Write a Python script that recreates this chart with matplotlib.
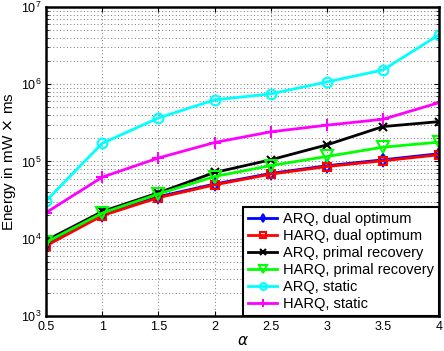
import numpy as np
import matplotlib
matplotlib.use("Agg")
import matplotlib.pyplot as plt
from matplotlib.ticker import LogLocator, NullFormatter

plt.rcParams['font.family'] = ['Liberation Sans', 'DejaVu Sans']

# data
alpha = [0.5, 1.0, 1.5, 2.0, 2.5, 3.0, 3.5, 4.0]
arq_dual = [8400, 20300, 35000, 51000, 70000, 88000, 105000, 126000]
harq_dual = [8100, 19900, 34000, 49800, 68500, 86000, 102000, 122000]
arq_primal = [9500, 22500, 39300, 72000, 105000, 164000, 283000, 328000]
harq_primal = [9000, 21500, 38000, 63800, 88500, 116000, 153000, 178000]
arq_static = [31000, 172000, 366000, 627000, 750000, 1070000, 1530000, 4380000]
harq_static = [21800, 62700, 111000, 176000, 242000, 295000, 352000, 578000]

labels = ['ARQ, dual optimum', 'HARQ, dual optimum', 'ARQ, primal recovery',
          'HARQ, primal recovery', 'ARQ, static', 'HARQ, static']
series = [arq_dual, harq_dual, arq_primal, harq_primal, arq_static, harq_static]
colors = ['#0000ff', '#ff0000', '#000000', '#00ff00', '#00ffff', '#ff00ff']
markers = ['d', 's', 'x', 'v', 'o', '+']
msizes = [6, 6, 6, 8, 7, 8]

fig = plt.figure(figsize=(4.44, 3.51), dpi=100)
ax = fig.add_axes([0.104, 0.100, 0.885, 0.880])

for y, lab, c, m, ms in zip(series, labels, colors, markers, msizes):
    ax.plot(alpha, y, color=c, marker=m, markersize=ms, linewidth=2,
            markerfacecolor='none', markeredgecolor=c, markeredgewidth=1.5,
            label=lab)

ax.set_yscale('log')
ax.set_xlim(0.5, 4)
ax.set_ylim(1e3, 1e7)
ax.set_xticks(alpha)
ax.set_xticklabels(['0.5', '1', '1.5', '2', '2.5', '3', '3.5', '4'])
ax.yaxis.set_major_locator(LogLocator(base=10, numticks=10))
ax.yaxis.set_minor_locator(LogLocator(base=10, subs=np.arange(2, 10), numticks=20))
ax.yaxis.set_minor_formatter(NullFormatter())

ax.grid(True, which='major', linestyle=(0, (1, 2.5)), color='#777777', linewidth=0.7)
ax.grid(True, which='minor', axis='y', linestyle=(0, (1, 2.5)), color='#777777', linewidth=0.7)
ax.tick_params(which='both', direction='in', top=True, right=True, labelsize=9)
for s in ax.spines.values():
    s.set_linewidth(1.8)

ax.set_xlabel(r'$\alpha$', fontsize=11, labelpad=1)
ax.set_ylabel(r'Energy in mW $\times$ ms', fontsize=11, labelpad=2)

leg = ax.legend(loc='lower right', fontsize=10.5, fancybox=False, framealpha=1,
                edgecolor='black', borderaxespad=0, handlelength=2.0,
                labelspacing=0.2, borderpad=0.35, handletextpad=0.4,
                markerscale=0.7)
leg.get_frame().set_linewidth(1.5)

fig.savefig('out.png', dpi=100)
